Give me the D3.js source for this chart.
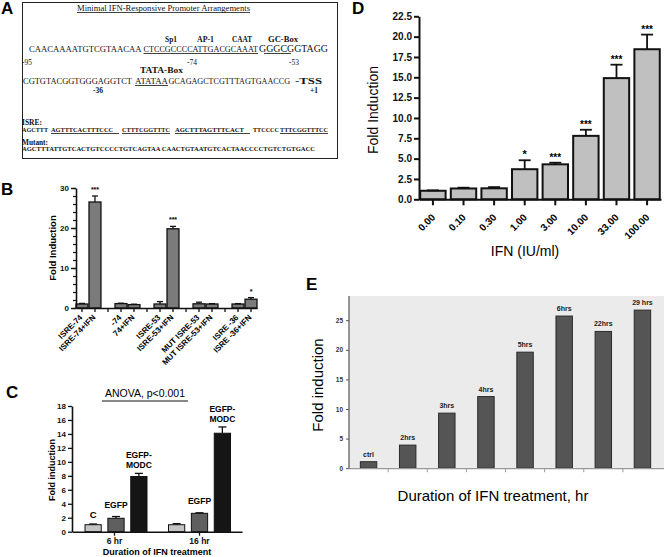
<!DOCTYPE html>
<html><head><meta charset="utf-8">
<script src="https://cdn.jsdelivr.net/npm/d3@7/dist/d3.min.js"></script>
<style>
body{margin:0;background:#fff;}
svg{display:block;font-family:"Liberation Sans",Arial,sans-serif;}
</style></head>
<body>
<svg id="fig" width="664" height="557"></svg>
<script>
// ---------- DATA ----------
// Panel B
const bCategories = ["ISRE-74","ISRE-74+IFN","-74","74+IFN","ISRE-53","ISRE-53+IFN","MUT ISRE-53","MUT ISRE-53+IFN","ISRE -36","ISRE -36+IFN"];
const bValues = [1.0, 26.5, 1.1, 0.85, 1.0, 19.8, 1.05, 1.0, 1.0, 2.2];
const bErrors = [0.15, 1.5, 0.1, 0.1, 0.6, 0.6, 0.4, 0.1, 0.1, 0.4];
const bSignif = ["","***","","","","***","","","","*"];
const bTicks = [0,10,20,30];
// Panel C
const cGroups = ["6 hr","16 hr"];
const cSeries = ["C","EGFP","EGFP-MODC"];
const c6Values = [1.0, 1.92, 7.9];
const c6Errors = [0.1, 0.25, 0.45];
const c16Values = [1.0, 2.63, 14.1];
const c16Errors = [0.15, 0.08, 0.9];
const cTicks = [0,2,4,6,8,10,12,14,16,18];
// Panel D
const dCategories = ["0.00","0.10","0.30","1.00","3.00","10.00","33.00","100.00"];
const dValues = [1.05, 1.33, 1.35, 3.7, 4.3, 7.8, 14.9, 18.45];
const dErrors = [0.05, 0.1, 0.15, 1.1, 0.2, 0.75, 1.65, 1.8];
const dSignif = ["","","","*","***","***","***","***"];
const dTicks = [0,2.5,5,7.5,10,12.5,15,17.5,20,22.5];
// Panel E
const eCategories = ["ctrl","2hrs","3hrs","4hrs","5hrs","6hrs","22hrs","29 hrs"];
const eValues = [1.1, 3.9, 9.3, 12.1, 19.6, 25.7, 23.1, 26.7];
const eTicks = [0,5,10,15,20,25];

const svg = d3.select("#fig");

// ---------- PANEL LABELS ----------
[["A",1,14],["B",1,195],["C",6,398],["D",352,14],["E",306,290]].forEach(([t,x,y])=>{
  svg.append("text").attr("x",x).attr("y",y).attr("font-size",17).attr("font-weight","bold").text(t);
});

// ---------- PANEL A ----------
const A = svg.append("g");
A.append("rect").attr("x",22.5).attr("y",2.5).attr("width",315).attr("height",156)
  .attr("fill","none").attr("stroke","#222").attr("stroke-width",1);
function seg(txt,x0,x1,y,opts={}){
  const maxFs = opts.fs||9;
  const t = A.append("text").attr("x",x0).attr("y",y).attr("font-size",maxFs)
    .attr("font-weight",opts.bold?"bold":"normal").attr("fill","#111")
    .attr("font-family",'"Liberation Serif","Times New Roman",serif').text(txt);
  const nat = t.node().getComputedTextLength();
  const target = x1-x0;
  const fs = Math.min(maxFs, maxFs*target/nat*0.99);
  t.attr("font-size",fs.toFixed(2));
  t.attr("textLength",target).attr("lengthAdjust","spacingAndGlyphs");
  if(opts.ul){
    const u0 = opts.ul[0]!==undefined?opts.ul[0]:x0, u1 = opts.ul[1]!==undefined?opts.ul[1]:x1;
    A.append("line").attr("x1",u0).attr("x2",u1).attr("y1",y+1.5).attr("y2",y+1.5)
      .attr("stroke","#111").attr("stroke-width",0.8);
  }
  return t;
}
seg("Minimal IFN-Responsive Promoter Arrangements",77,250,11,{fs:7.5,ul:[]});
seg("Sp1",165,177,41.5,{fs:8.5,bold:true});
seg("AP-1",197,214,41.5,{fs:8.5,bold:true});
seg("CAAT",232,252,41.5,{fs:8.5,bold:true});
seg("GC-Box",268,298,41.5,{fs:8.5,bold:true});
seg("CAACAAAATGTCGTAACAA",29,141.5,52,{fs:9.5});
seg("CTCCGCCCCATTGACGCAAAT",143.5,258,52,{fs:9.5,ul:[]});
seg("GGGCGGTAGG",259,328,52,{fs:9.5,ul:[264,291]});
seg("-95",22,32,64.5,{fs:7.5});
seg("-74",187,197,64.5,{fs:7.5});
seg("-53",289,299,64.5,{fs:7.5});
seg("TATA-Box",140,183,72.5,{fs:8.5,bold:true});
seg("CGTGTACGGTGGGAGGTCT",23,132,84,{fs:9.5});
seg("ATATAA",135,168,84,{fs:9.5,ul:[]});
seg("GCAGAGCTCGTTTAGTGAACCG",168.5,290,84,{fs:9.5});
seg("-TSS",295,322,84,{fs:8.5,bold:true});
seg("-36",93,103,93,{fs:7.5,bold:true});
seg("+1",310,318,93,{fs:7.5,bold:true});
seg("ISRE:",22,42,125,{fs:7.5,bold:true});
seg("AGCTTT",22,48,132,{fs:5.5,bold:true});
seg("AGTTTCACTTTCCC",51,113,132,{fs:5.5,bold:true,ul:[51,119]});
seg("CTTTCGGTTTC",122,170,132,{fs:5.5,bold:true,ul:[]});
seg("AGCTTTAGTTTCACT",175,244,132,{fs:5.5,bold:true,ul:[175,250]});
seg("TTCCCC",253,279,132,{fs:5.5,bold:true});
seg("TTTCGGTTTCC",280,328,132,{fs:5.5,bold:true,ul:[]});
seg("Mutant:",22,48,144.5,{fs:7.5,bold:true});
seg("AGCTTTATTGTCACTGTCCCCTGTCAGTAA CAACTGTAATGTCACTAACCCCTGTCTGTGACC",22,315,150.5,{fs:5.5,bold:true});

// ---------- PANEL B ----------
(function(){
  const g = svg.append("g");
  const domain = [];
  bCategories.forEach((c,i)=>{ domain.push(c); if(i%2===1 && i<bCategories.length-1) domain.push("gap"+i); });
  const x = d3.scaleBand().domain(domain).range([76,257]).paddingInner(0.08).paddingOuter(0);
  const y = d3.scaleLinear().domain([0,30]).range([308,188]);
  const bw = x.bandwidth();
  g.selectAll("rect.bar").data(bCategories).join("rect").attr("class","bar")
    .attr("x",d=>x(d)).attr("width",bw)
    .attr("y",(d,i)=>y(bValues[i])).attr("height",(d,i)=>y(0)-y(bValues[i]))
    .attr("fill","#7b7b7b").attr("stroke","#111").attr("stroke-width",1.3);
  bCategories.forEach((c,i)=>{
    const cx = x(c)+bw/2, top=y(bValues[i]), et=y(bValues[i]+bErrors[i]);
    g.append("line").attr("x1",cx).attr("x2",cx).attr("y1",top).attr("y2",et).attr("stroke","#111").attr("stroke-width",1.3);
    g.append("line").attr("x1",cx-3).attr("x2",cx+3).attr("y1",et).attr("y2",et).attr("stroke","#111").attr("stroke-width",1.3);
    if(bSignif[i]) g.append("text").attr("x",cx).attr("y",et-4).attr("text-anchor","middle")
      .attr("font-size",7).attr("font-weight","bold").text(bSignif[i]);
    g.append("text").attr("transform",`translate(${cx+1},${318}) rotate(-45)`)
      .attr("text-anchor","end").attr("font-size",8).attr("font-weight","bold").text(c);
  });
  g.append("g").attr("transform","translate(76,0)").call(d3.axisLeft(y).tickValues(d3.range(0,31,2)).tickSize(3).tickFormat(""))
    .call(a=>a.select(".domain").remove()).selectAll("line").attr("stroke","#111").attr("stroke-width",1.2);
  const ya = g.append("g").attr("transform","translate(76,0)").call(d3.axisLeft(y).tickValues(bTicks).tickSize(5).tickSizeOuter(0));
  ya.select(".domain").attr("stroke","#111").attr("stroke-width",1.6);
  ya.selectAll("line").attr("stroke","#111").attr("stroke-width",1.4);
  ya.selectAll("text").attr("font-size",8).attr("font-weight","bold").attr("font-family","Liberation Sans").attr("fill","#111").attr("dx",1);
  const xa = g.append("g").attr("transform","translate(0,308)").call(d3.axisBottom(x).tickSize(4).tickSizeOuter(0).tickFormat(""));
  xa.select(".domain").attr("stroke","#111").attr("stroke-width",1.6);
  xa.selectAll("line").attr("stroke","#111").attr("stroke-width",1.3);
  g.append("text").attr("transform","translate(56,248) rotate(-90)").attr("text-anchor","middle")
    .attr("font-size",9.5).attr("font-weight","bold").text("Fold Induction");
})();

// ---------- PANEL C ----------
(function(){
  const g = svg.append("g");
  const x = d3.scaleBand().domain(cGroups).range([72,242]);
  const xs = d3.scaleBand().domain(cSeries).range([-31,31]).paddingInner(0.29);
  const y = d3.scaleLinear().domain([0,18]).range([531.7,406]);
  const colors = ["#c4c4c4","#5f5f5f","#151515"];
  const vals = [c6Values,c16Values], errs=[c6Errors,c16Errors];
  cGroups.forEach((grp,gi)=>{
    const cx0 = x(grp)+x.bandwidth()/2 + (gi===0?1.5:0);
    cSeries.forEach((s,si)=>{
      const v=vals[gi][si], e=errs[gi][si];
      const bx = cx0+xs(s), cx=bx+xs.bandwidth()/2;
      g.append("rect").attr("x",bx).attr("width",xs.bandwidth()).attr("y",y(v)).attr("height",y(0)-y(v))
        .attr("fill",colors[si]).attr("stroke","#111").attr("stroke-width",1);
      g.append("line").attr("x1",cx).attr("x2",cx).attr("y1",y(v)).attr("y2",y(v+e)).attr("stroke","#111").attr("stroke-width",1.3);
      g.append("line").attr("x1",cx-4).attr("x2",cx+4).attr("y1",y(v+e)).attr("y2",y(v+e)).attr("stroke","#111").attr("stroke-width",1.3);
      const ly = y(v+e)-5;
      if(s==="EGFP-MODC"){
        g.append("text").attr("x",cx).attr("y",ly-10).attr("text-anchor","middle").attr("font-size",8.5).attr("font-weight","bold").text("EGFP-");
        g.append("text").attr("x",cx).attr("y",ly).attr("text-anchor","middle").attr("font-size",8.5).attr("font-weight","bold").text("MODC");
      } else if(!(s==="C" && gi===1)){
        g.append("text").attr("x",cx).attr("y",s==="C"?ly-1:ly-4).attr("text-anchor","middle").attr("font-size",s==="C"?9.5:8.5).attr("font-weight","bold").text(s);
      }
    });
  });
  const ya = g.append("g").attr("transform","translate(72,0)").call(d3.axisLeft(y).tickValues(cTicks).tickSize(4).tickSizeOuter(0));
  ya.select(".domain").attr("stroke","#111").attr("stroke-width",1.6);
  ya.selectAll("line").attr("stroke","#111").attr("stroke-width",1.3);
  ya.selectAll("text").attr("font-size",8).attr("font-weight","bold").attr("font-family","Liberation Sans").attr("fill","#111").attr("dx",1);
  const xa = g.append("g").attr("transform","translate(0,531.7)").call(d3.axisBottom(x).tickSize(4).tickSizeOuter(0));
  xa.select(".domain").attr("stroke","#111").attr("stroke-width",1.6);
  xa.selectAll("line").attr("stroke","#111").attr("stroke-width",1.3);
  xa.selectAll("text").attr("font-size",8.5).attr("font-weight","bold").attr("font-family","Liberation Sans").attr("fill","#111").attr("dy","0.6em");
  g.append("text").attr("transform","translate(55,470) rotate(-90)").attr("text-anchor","middle")
    .attr("font-size",9).attr("font-weight","bold").text("Fold induction");
  g.append("text").attr("x",157).attr("y",555).attr("text-anchor","middle").attr("font-size",9).attr("font-weight","bold").text("Duration of IFN treatment");
  g.append("text").attr("x",145).attr("y",397).attr("text-anchor","middle").attr("font-size",10.5).text("ANOVA, p<0.001");
  g.append("line").attr("x1",102).attr("x2",188).attr("y1",401).attr("y2",401).attr("stroke","#111").attr("stroke-width",1);
})();

// ---------- PANEL D ----------
(function(){
  const g = svg.append("g");
  const x = d3.scaleBand().domain(dCategories).range([419,661]).paddingInner(0.17).paddingOuter(0.04);
  const y = d3.scaleLinear().domain([0,22.5]).range([199.3,16.3]);
  const bw = x.bandwidth();
  g.selectAll("rect.dbar").data(dCategories).join("rect").attr("class","dbar")
    .attr("x",d=>x(d)).attr("width",bw).attr("y",(d,i)=>y(dValues[i])).attr("height",(d,i)=>y(0)-y(dValues[i]))
    .attr("fill","#c0c0c0").attr("stroke","#111").attr("stroke-width",2);
  dCategories.forEach((c,i)=>{
    const cx=x(c)+bw/2, top=y(dValues[i]), et=y(dValues[i]+dErrors[i]);
    g.append("line").attr("x1",cx).attr("x2",cx).attr("y1",top).attr("y2",et).attr("stroke","#111").attr("stroke-width",1.8);
    g.append("line").attr("x1",cx-6).attr("x2",cx+6).attr("y1",et).attr("y2",et).attr("stroke","#111").attr("stroke-width",1.8);
    if(dSignif[i]) g.append("text").attr("x",cx).attr("y",et-2).attr("text-anchor","middle")
      .attr("font-size",dSignif[i]==="*"?11:10).attr("font-weight","bold").text(dSignif[i]);
    g.append("text").attr("transform",`translate(${cx+3},${218}) rotate(-45)`)
      .attr("text-anchor","end").attr("font-size",10).attr("font-weight","bold").text(c);
  });
  const ya = g.append("g").attr("transform","translate(419,0)").call(d3.axisLeft(y).tickValues(dTicks).tickSize(5).tickSizeOuter(0).tickFormat(d3.format(".1f")));
  ya.select(".domain").attr("stroke","#111").attr("stroke-width",2);
  ya.selectAll("line").attr("stroke","#111").attr("stroke-width",2);
  ya.selectAll("text").attr("font-size",10).attr("font-weight","bold").attr("font-family","Liberation Sans").attr("fill","#111").attr("dx",1);
  const xa = g.append("g").attr("transform","translate(0,199.3)").call(d3.axisBottom(x).tickSize(6).tickSizeOuter(0).tickFormat(""));
  xa.select(".domain").attr("stroke","#111").attr("stroke-width",2);
  xa.selectAll("line").attr("stroke","#111").attr("stroke-width",2);
  g.append("text").attr("transform","translate(378,110) rotate(-90)").attr("text-anchor","middle")
    .attr("font-size",14).text("Fold Induction");
  g.append("text").attr("x",525).attr("y",256).attr("text-anchor","middle").attr("font-size",14).text("IFN (IU/ml)");
})();

// ---------- PANEL E ----------
(function(){
  const g = svg.append("g");
  const x = d3.scaleBand().domain(eCategories).range([349,662]).paddingInner(0.58).paddingOuter(0.29);
  const y = d3.scaleLinear().domain([0,25]).range([468.2,320.2]);
  g.append("rect").attr("x",349).attr("y",296).attr("width",315).attr("height",468.2-296).attr("fill","#ebebeb");
  const bw = x.bandwidth();
  g.selectAll("rect.ebar").data(eCategories).join("rect").attr("class","ebar")
    .attr("x",d=>x(d)).attr("width",bw).attr("y",(d,i)=>y(eValues[i])).attr("height",(d,i)=>y(0)-y(eValues[i]))
    .attr("fill","#555").attr("stroke","#2a2a2a").attr("stroke-width",1);
  eCategories.forEach((c,i)=>{
    g.append("text").attr("x",x(c)+bw/2).attr("y",y(eValues[i])-5).attr("text-anchor","middle")
      .attr("font-size",7).attr("font-weight","bold").attr("fill","#222").text(c);
  });
  const xa = g.append("g").attr("transform","translate(0,468.2)");
  xa.append("line").attr("x1",349).attr("x2",664).attr("y1",0.5).attr("y2",0.5).attr("stroke","#999").attr("stroke-width",1.2);
  eCategories.forEach((c,i)=>{ if(i>0){ const ex = x(c) - (x.step()-bw)/2;
    xa.append("line").attr("x1",ex).attr("x2",ex).attr("y1",0).attr("y2",4).attr("stroke","#999").attr("stroke-width",1);} });
  const ya = g.append("g").attr("transform","translate(349,0)").call(d3.axisLeft(y).tickValues(eTicks).tickSize(3).tickSizeOuter(0));
  ya.select(".domain").remove();
  ya.append("line").attr("x1",0).attr("x2",0).attr("y1",296).attr("y2",468.2).attr("stroke","#555").attr("stroke-width",1.2);
  ya.selectAll(".tick line").attr("stroke","#555");
  ya.selectAll("text").attr("font-size",6.5).attr("font-weight","bold").attr("font-family","Liberation Sans").attr("fill","#333");
  g.append("text").attr("transform","translate(323,385) rotate(-90)").attr("text-anchor","middle")
    .attr("font-size",15).text("Fold induction");
  g.append("text").attr("x",493).attr("y",501).attr("text-anchor","middle").attr("font-size",15).text("Duration of IFN treatment, hr");
})();
</script>
</body></html>
